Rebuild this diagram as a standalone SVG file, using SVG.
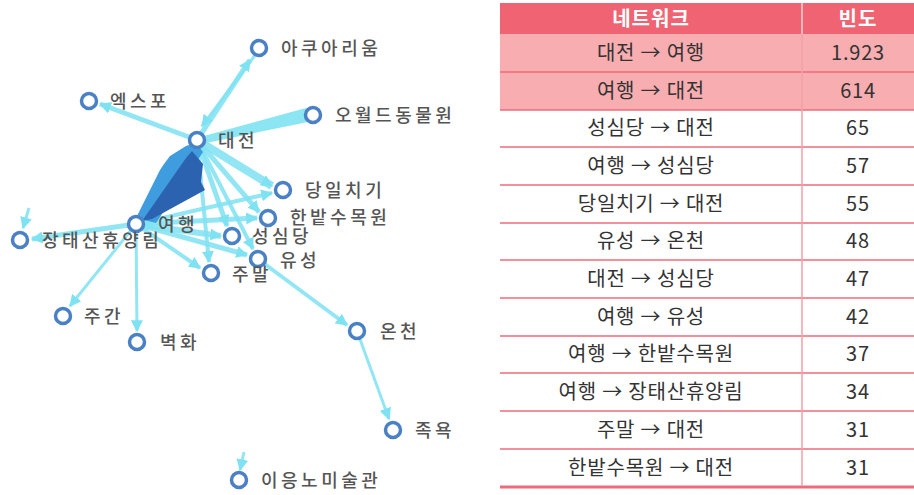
<svg xmlns="http://www.w3.org/2000/svg" width="914" height="495" viewBox="0 0 914 495">
<defs>
<marker id="ah" viewBox="0 0 10 10" refX="9" refY="5" markerWidth="12" markerHeight="12" markerUnits="userSpaceOnUse" orient="auto">
<path d="M0,0 L10,5 L0,10 z" fill="#7fe2f2"/>
</marker>
<style>
.e{stroke:#7fe2f2;fill:none;stroke-opacity:0.85;marker-end:url(#ah)}
.n circle{fill:#fff;stroke:#4a80c4;stroke-width:3.5}
.n text{font-family:"Noto Sans CJK KR","Noto Sans",sans-serif;font-size:18px;font-weight:500;fill:#555;letter-spacing:3.5px}
.t{font-family:"Noto Sans CJK KR","Noto Sans",sans-serif;font-size:20px;fill:#333;text-anchor:middle;letter-spacing:0.8px}
.h{font-family:"Noto Sans CJK KR","Noto Sans",sans-serif;font-size:20px;font-weight:bold;fill:#fff;text-anchor:middle;letter-spacing:1px}
.sep{stroke:#ee6b7b;stroke-width:1.5}
</style>
</defs>
<rect width="914" height="495" fill="#fff"/>
<g id="connectors">
<line class="e" x1="197" y1="140" x2="250" y2="60" stroke-width="5"/>
<line class="e" x1="256" y1="54" x2="202" y2="126" stroke-width="3"/>
<line class="e" x1="197" y1="140" x2="100" y2="104" stroke-width="5"/>
<polygon points="200,137 306,108 308,122 201,144" fill="#7fe2f2" fill-opacity="0.9"/>
<line class="e" x1="197" y1="140" x2="272" y2="186" stroke-width="8"/>
<line class="e" x1="197" y1="140" x2="259" y2="212" stroke-width="5"/>
<line class="e" x1="197" y1="140" x2="227" y2="226" stroke-width="5"/>
<line class="e" x1="197" y1="140" x2="253" y2="249" stroke-width="4"/>
<line class="e" x1="197" y1="140" x2="209" y2="262" stroke-width="4"/>
<line class="e" x1="136" y1="224" x2="272" y2="193" stroke-width="4"/>
<line class="e" x1="136" y1="224" x2="257" y2="218" stroke-width="5"/>
<line class="e" x1="136" y1="224" x2="221" y2="236" stroke-width="6"/>
<line class="e" x1="136" y1="224" x2="247" y2="255" stroke-width="5"/>
<line class="e" x1="136" y1="224" x2="200" y2="268" stroke-width="4"/>
<line class="e" x1="136" y1="224" x2="32" y2="239" stroke-width="5"/>
<line class="e" x1="136" y1="224" x2="70" y2="306" stroke-width="3"/>
<line class="e" x1="136" y1="224" x2="137" y2="331" stroke-width="3"/>
<line class="e" x1="258" y1="259" x2="347" y2="325" stroke-width="4"/>
<line class="e" x1="357" y1="331" x2="389" y2="419" stroke-width="3"/>
<line class="e" x1="29" y1="208" x2="23" y2="228" stroke-width="3"/>
<line class="e" x1="244" y1="452" x2="240" y2="470" stroke-width="3"/>
<polygon points="136,218 160,170 164,164 170,156 186,146 196,143 203,152 156,223" fill="#3f9ddf"/>
<polygon points="142,221 186,158 192,151 203,164 201,182 205,190 152,219" fill="#2c63b0"/>
</g>
<g id="n-aquarium" class="n"><circle cx="259" cy="48" r="7.5"/><text x="281" y="55">아쿠아리움</text></g>
<g id="n-expo" class="n"><circle cx="89" cy="101" r="7.5"/><text x="110" y="108">엑스포</text></g>
<g id="n-oworld" class="n"><circle cx="313" cy="115" r="7.5"/><text x="335" y="122">오월드동물원</text></g>
<g id="n-daejeon" class="n"><circle cx="197" cy="140" r="7.5"/><text x="218" y="147">대전</text></g>
<g id="n-dangil" class="n"><circle cx="283" cy="190" r="7.5"/><text x="305" y="197">당일치기</text></g>
<g id="n-hanbat" class="n"><circle cx="268" cy="218" r="7.5"/><text x="290" y="224">한밭수목원</text></g>
<g id="n-yeohaeng" class="n"><circle cx="136" cy="224" r="7.5"/><text x="158" y="231">여행</text></g>
<g id="n-jangtae" class="n"><circle cx="20" cy="240" r="7.5"/><text x="42" y="247">장태산휴양림</text></g>
<g id="n-sungsim" class="n"><circle cx="232" cy="236" r="7.5"/><text x="252" y="243">성심당</text></g>
<g id="n-yuseong" class="n"><circle cx="258" cy="259" r="7.5"/><text x="280" y="267">유성</text></g>
<g id="n-jumal" class="n"><circle cx="211" cy="273" r="7.5"/><text x="232" y="281">주말</text></g>
<g id="n-oncheon" class="n"><circle cx="357" cy="331" r="7.5"/><text x="380" y="338">온천</text></g>
<g id="n-jugan" class="n"><circle cx="63" cy="316" r="7.5"/><text x="84" y="323">주간</text></g>
<g id="n-byeokhwa" class="n"><circle cx="137" cy="342" r="7.5"/><text x="160" y="349">벽화</text></g>
<g id="n-jokyok" class="n"><circle cx="393" cy="430" r="7.5"/><text x="415" y="437">족욕</text></g>
<g id="n-ieungno" class="n"><circle cx="239" cy="480" r="7.5"/><text x="261" y="487">이응노미술관</text></g>
<g id="table">
<rect x="500" y="3" width="414" height="31" fill="#f06373"/>
<rect x="500" y="34" width="414" height="76" fill="#f8adb0"/>
<line x1="500" y1="72" x2="914" y2="72" class="sep"/>
<line x1="500" y1="110" x2="914" y2="110" class="sep"/>
<line x1="500" y1="147" x2="914" y2="147" class="sep"/>
<line x1="500" y1="185" x2="914" y2="185" class="sep"/>
<line x1="500" y1="223" x2="914" y2="223" class="sep"/>
<line x1="500" y1="260" x2="914" y2="260" class="sep"/>
<line x1="500" y1="298" x2="914" y2="298" class="sep"/>
<line x1="500" y1="336" x2="914" y2="336" class="sep"/>
<line x1="500" y1="373" x2="914" y2="373" class="sep"/>
<line x1="500" y1="411" x2="914" y2="411" class="sep"/>
<line x1="500" y1="449" x2="914" y2="449" class="sep"/>
<line x1="500" y1="487" x2="914" y2="487" stroke="#ee6b7b" stroke-width="3"/>
<line x1="802" y1="3" x2="802" y2="34" stroke="#fbd3d6" stroke-width="1.5"/>
<line x1="802" y1="34" x2="802" y2="486" stroke="#f3a0a9" stroke-width="1.5"/>
<text class="h" x="651" y="26">네트워크</text>
<text class="h" x="858" y="26">빈도</text>
<text class="t" x="651" y="60">대전 → 여행</text><text class="t" x="858" y="60">1.923</text>
<text class="t" x="651" y="98">여행 → 대전</text><text class="t" x="858" y="98">614</text>
<text class="t" x="651" y="135">성심당 → 대전</text><text class="t" x="858" y="135">65</text>
<text class="t" x="651" y="173">여행 → 성심당</text><text class="t" x="858" y="173">57</text>
<text class="t" x="651" y="211">당일치기 → 대전</text><text class="t" x="858" y="211">55</text>
<text class="t" x="651" y="248">유성 → 온천</text><text class="t" x="858" y="248">48</text>
<text class="t" x="651" y="286">대전 → 성심당</text><text class="t" x="858" y="286">47</text>
<text class="t" x="651" y="324">여행 → 유성</text><text class="t" x="858" y="324">42</text>
<text class="t" x="651" y="361">여행 → 한밭수목원</text><text class="t" x="858" y="361">37</text>
<text class="t" x="651" y="399">여행 → 장태산휴양림</text><text class="t" x="858" y="399">34</text>
<text class="t" x="651" y="437">주말 → 대전</text><text class="t" x="858" y="437">31</text>
<text class="t" x="651" y="475">한밭수목원 → 대전</text><text class="t" x="858" y="475">31</text>
</g>
</svg>
